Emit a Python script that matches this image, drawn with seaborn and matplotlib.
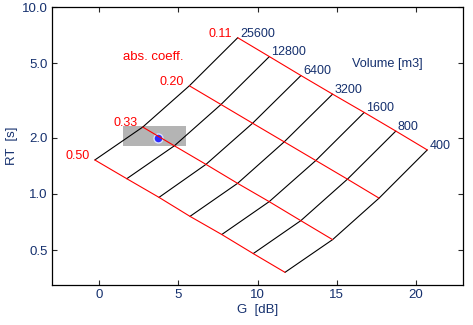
import matplotlib
matplotlib.use("Agg")
import matplotlib.pyplot as plt
from matplotlib.patches import Rectangle
from matplotlib.ticker import FixedLocator, FixedFormatter, NullLocator
import seaborn as sns
import pandas as pd

# ---- data ----
volumes = [400, 800, 1600, 3200, 6400, 12800, 25600]
volume_labels = ["400", "800", "1600", "3200", "6400", "12800", "25600"]
alphas = [0.11, 0.20, 0.33, 0.50]
alpha_labels = ["0.11", "0.20", "0.33", "0.50"]

g_a011 = [20.74, 18.75, 16.75, 14.75, 12.75, 10.75, 8.75]
rt_a011 = [1.72, 2.17, 2.73, 3.42, 4.30, 5.43, 6.85]
g_a020 = [17.69, 15.69, 13.69, 11.69, 9.69, 7.69, 5.69]
rt_a020 = [0.95, 1.20, 1.51, 1.90, 2.39, 3.01, 3.79]
g_a033 = [14.75, 12.74, 10.74, 8.74, 6.74, 4.74, 2.74]
rt_a033 = [0.57, 0.72, 0.91, 1.14, 1.44, 1.81, 2.28]
g_a050 = [11.74, 9.73, 7.74, 5.73, 3.77, 1.73, -0.29]
rt_a050 = [0.381, 0.48, 0.607, 0.759, 0.959, 1.207, 1.52]

point_g = [3.7]
point_rt = [2.0]
box_g = [1.5, 5.5]
box_rt = [1.8, 2.3]

x_ticks = [0, 5, 10, 15, 20]
y_ticks = [0.5, 1.0, 2.0, 5.0, 10.0]
y_tick_labels = ["0.5", "1.0", "2.0", "5.0", "10.0"]

# ---- long-form table ----
g_rows = [g_a011, g_a020, g_a033, g_a050]
rt_rows = [rt_a011, rt_a020, rt_a033, rt_a050]
records = []
for a, gs, rts in zip(alphas, g_rows, rt_rows):
    for v, g, rt in zip(volumes, gs, rts):
        records.append({"alpha": a, "V": v, "G": g, "RT": rt})
df = pd.DataFrame(records)

sns.set_style("ticks")
plt.rcParams["font.family"] = ["Liberation Sans", "DejaVu Sans"]
navy = "#15306e"

fig = plt.figure(figsize=(4.73, 3.25), dpi=100)
ax = fig.add_axes([52 / 473, 40 / 325, 411 / 473, 278 / 325])

ax.add_patch(Rectangle((box_g[0], box_rt[0]), box_g[1] - box_g[0], box_rt[1] - box_rt[0],
                       facecolor="#b4b4b4", edgecolor="none", zorder=1))

sns.scatterplot(x=point_g, y=point_rt, ax=ax, color="#2a2aff", edgecolor="#d8e0ff",
                linewidth=1.0, s=42, zorder=2, legend=False)

sns.lineplot(data=df, x="G", y="RT", units="V", estimator=None, sort=False,
             color="black", linewidth=0.8, ax=ax, zorder=3, legend=False)
sns.lineplot(data=df, x="G", y="RT", units="alpha", estimator=None, sort=False,
             color="#ff0000", linewidth=0.8, ax=ax, zorder=4, legend=False)

ax.set_yscale("log")
ax.set_xlim(-3, 23)
ax.set_ylim(0.326, 10)

# volume labels at the alpha=0.11 line
for lab, g, rt in zip(volume_labels, g_a011, rt_a011):
    ax.annotate(lab, (g, rt), xytext=(1.5, 0.8), textcoords="offset points",
                ha="left", va="baseline", fontsize=9, color=navy)
# alpha labels at the V=25600 end
for lab, gs, rts in zip(alpha_labels, g_rows, rt_rows):
    ax.annotate(lab, (gs[-1], rts[-1]), xytext=(-3.8, 0.5), textcoords="offset points",
                ha="right", va="baseline", fontsize=9, color="#ff0000")

ax.text(1.5, 5.43, "abs. coeff.", ha="left", va="center", fontsize=9.5, color="#ff0000")
ax.text(16.0, 4.95, "Volume [m3]", ha="left", va="center", fontsize=9.2, color=navy)

ax.xaxis.set_major_locator(FixedLocator(x_ticks))
ax.yaxis.set_major_locator(FixedLocator(y_ticks))
ax.yaxis.set_major_formatter(FixedFormatter(y_tick_labels))
ax.yaxis.set_minor_locator(NullLocator())
ax.xaxis.set_minor_locator(NullLocator())

for s in ax.spines.values():
    s.set_visible(True)
    s.set_color("black")
    s.set_linewidth(0.9)
ax.tick_params(direction="in", length=3.5, width=0.8, top=True, right=True,
               labelsize=9.5, labelcolor=navy, pad=3)

ax.set_xlabel("G  [dB]", fontsize=9.5, color=navy, labelpad=2)
ax.set_ylabel("RT  [s]", fontsize=9.5, color=navy, labelpad=3)

fig.savefig("out.png", dpi=100)
